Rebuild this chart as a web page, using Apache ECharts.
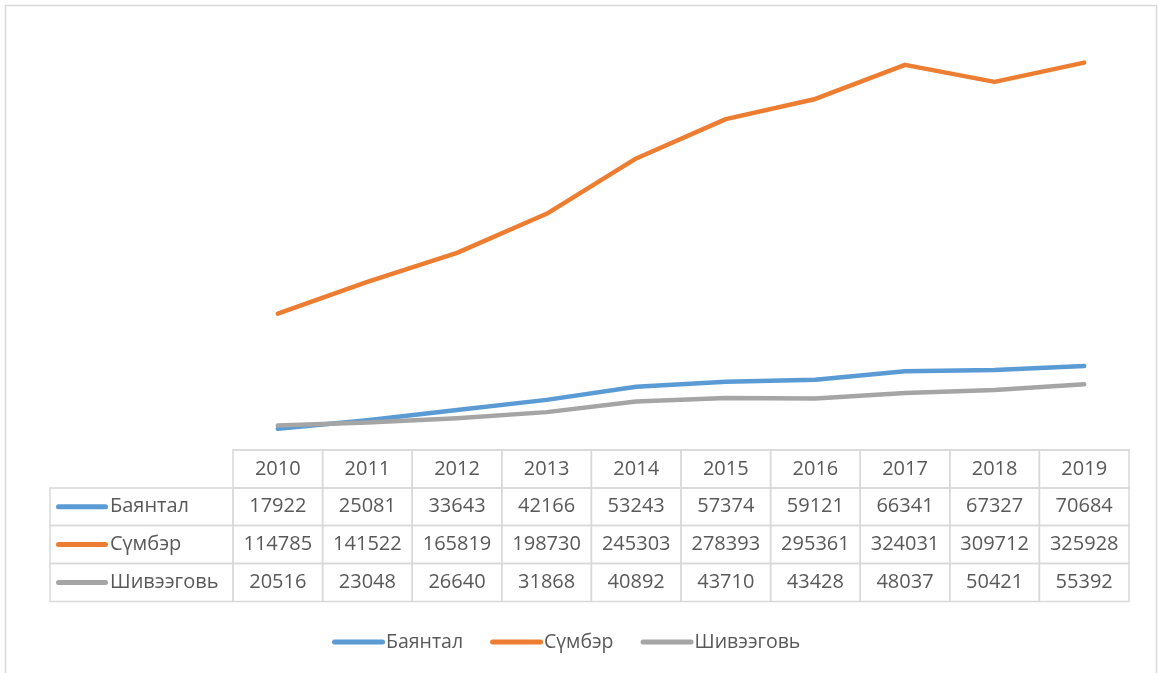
<!DOCTYPE html>
<html>
<head>
<meta charset="utf-8">
<script src="https://cdn.jsdelivr.net/npm/echarts@6/dist/echarts.min.js"></script>
<style>
  html, body { margin: 0; padding: 0; background: #fff; }
  #main { width: 1158px; height: 673px; }
</style>
</head>
<body>
<div id="main"></div>
<script>
// data
var years = ['2010', '2011', '2012', '2013', '2014', '2015', '2016', '2017', '2018', '2019'];
var seriesNames = ['Баянтал', 'Сүмбэр', 'Шивээговь'];
var bayantal = [17922, 25081, 33643, 42166, 53243, 57374, 59121, 66341, 67327, 70684];
var sumber = [114785, 141522, 165819, 198730, 245303, 278393, 295361, 324031, 309712, 325928];
var shiveegovi = [20516, 23048, 26640, 31868, 40892, 43710, 43428, 48037, 50421, 55392];
var colors = ['#5b9bd5', '#ed7d31', '#a5a5a5'];

var allValues = [bayantal, sumber, shiveegovi];
var gridLeft = 233, gridRight = 29, gridTop = 34, gridBottom = 223;
var tableTop = 450;
var rowH = [38, 37.5, 38, 38];
var labelLeft = 50;
var fontFam = '"Open Sans", "Liberation Sans", sans-serif';
var textColor = '#595959';
var borderColor = '#d9d9d9';

var chart = echarts.init(document.getElementById('main'), null, { renderer: 'canvas' });

var option = {
  backgroundColor: '#fff',
  animation: false,
  grid: { left: gridLeft, right: gridRight, top: gridTop, bottom: gridBottom },
  legend: {
    left: 327,
    top: 627,
    itemWidth: 53,
    itemHeight: 5,
    itemGap: 27,
    icon: 'path://M2.5,0H50.5A2.5,2.5,0,0,1,50.5,5H2.5A2.5,2.5,0,0,1,2.5,0Z',
    textStyle: { color: textColor, fontSize: 19.5, fontFamily: fontFam, padding: [0, 0, 0, -4] },
    data: seriesNames
  },
  xAxis: {
    type: 'category',
    data: years,
    boundaryGap: true,
    axisLine: { show: true, lineStyle: { color: borderColor, width: 1.5 } },
    axisTick: { show: false },
    axisLabel: { show: false }
  },
  yAxis: {
    type: 'value',
    min: 0,
    max: 350000,
    show: false,
    splitLine: { show: false }
  },
  series: seriesNames.map(function (name, i) {
    return {
      name: name,
      type: 'line',
      data: allValues[i],
      symbol: 'none',
      color: colors[i],
      lineStyle: { width: 4.5, color: colors[i], cap: 'round', join: 'round' }
    };
  })
};
chart.setOption(option);

// data table under the plot
function buildTable() {
  var els = [];
  var cw = chart.convertToPixel({ xAxisIndex: 0 }, years[1]) - chart.convertToPixel({ xAxisIndex: 0 }, years[0]);
  var rowY = [tableTop];
  for (var r = 0; r < rowH.length; r++) rowY.push(rowY[r] + rowH[r]);

  // outer chart frame
  els.push({ type: 'rect', shape: { x: 5.5, y: 5.5, width: 1151, height: 700 },
    style: { fill: null, stroke: borderColor, lineWidth: 1.5 }, silent: true });

  // header row
  years.forEach(function (y) {
    var cx = chart.convertToPixel({ xAxisIndex: 0 }, y);
    els.push({ type: 'rect', shape: { x: cx - cw / 2, y: rowY[0], width: cw, height: rowH[0] },
      style: { fill: null, stroke: borderColor, lineWidth: 1.5 } });
    els.push({ type: 'text', style: { text: y, x: cx, y: rowY[0] + rowH[0] / 2, align: 'center', verticalAlign: 'middle',
      fontSize: 20, fontFamily: fontFam, fill: textColor } });
  });

  // series rows
  seriesNames.forEach(function (name, s) {
    var top = rowY[s + 1], h = rowH[s + 1], mid = top + h / 2;
    els.push({ type: 'rect', shape: { x: labelLeft, y: top, width: gridLeft - labelLeft, height: h },
      style: { fill: null, stroke: borderColor, lineWidth: 1.5 } });
    els.push({ type: 'rect', shape: { x: 56, y: mid - 2.5, width: 52, height: 5, r: 2.5 },
      style: { fill: colors[s] } });
    els.push({ type: 'text', style: { text: name, x: 110, y: mid, align: 'left', verticalAlign: 'middle',
      fontSize: 20, fontFamily: fontFam, fill: textColor } });
    years.forEach(function (y, i) {
      var cx = chart.convertToPixel({ xAxisIndex: 0 }, y);
      els.push({ type: 'rect', shape: { x: cx - cw / 2, y: top, width: cw, height: h },
        style: { fill: null, stroke: borderColor, lineWidth: 1.5 } });
      els.push({ type: 'text', style: { text: String(allValues[s][i]), x: cx, y: mid, align: 'center', verticalAlign: 'middle',
        fontSize: 20, fontFamily: fontFam, fill: textColor } });
    });
  });
  chart.setOption({ graphic: els });
}
buildTable();
</script>
</body>
</html>
